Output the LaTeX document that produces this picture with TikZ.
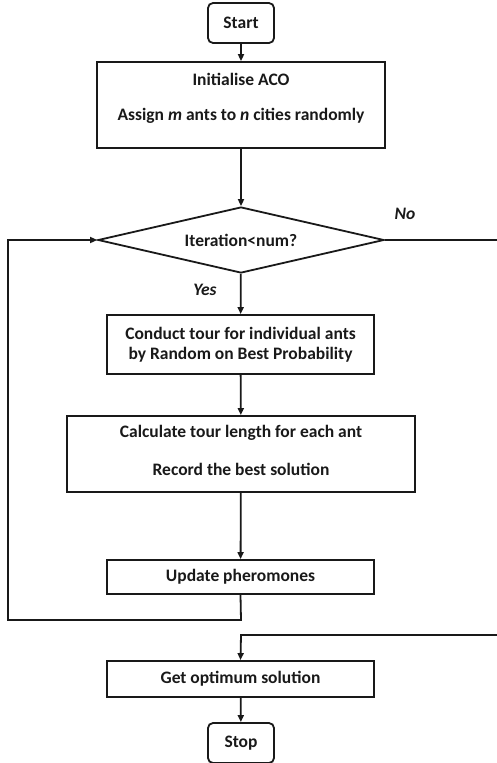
\documentclass[tikz,border=0pt]{standalone}
\usepackage{fontspec}
\setmainfont{Carlito}
\usetikzlibrary{shapes.geometric,arrows.meta}
\begin{document}
\begin{tikzpicture}[x=1pt,y=-1pt,
  line width=1.8pt,
  every node/.style={font=\fontsize{17.5}{20}\selectfont\bfseries, text=black!90},
  box/.style={draw=black!90, rectangle, inner sep=0pt},
  term/.style={draw=black!90, rectangle, rounded corners=5pt, inner sep=0pt, minimum width=66pt, minimum height=40pt},
  arr/.style={draw=black!90, -{Triangle[length=7pt,width=6pt]}},
  ln/.style={draw=black!90}]
\useasboundingbox (0,0) rectangle (496,763);
\node[term] (start) at (241,23) {Start};
\node[box, minimum width=288pt, minimum height=86pt] (init) at (241,105) {};
\node (init1) at (241,79) {Initialise ACO};
\node (init2) at (241,116) {Assign \textit{m} ants to \textit{n} cities randomly};
\node[draw=black!90, diamond, inner sep=0pt, minimum width=286pt, minimum height=66pt, aspect=4.33] (dia) at (241,240) {Iteration<num?};
\node[box, minimum width=267pt, minimum height=59pt, align=center] (conduct) at (240.5,344.5) {Conduct tour for individual ants\\by Random on Best Probability};
\node[box, minimum width=348pt, minimum height=76pt] (calc) at (241,454) {};
\node (calc1) at (241,433) {Calculate tour length for each ant};
\node (calc2) at (241,469) {Record the best solution};
\node[box, minimum width=267pt, minimum height=34pt] (update) at (240.5,577) {Update pheromones};
\node[box, minimum width=267pt, minimum height=36pt] (get) at (240.5,679) {Get optimum solution};
\node[term] (stop) at (241,743) {Stop};
\node[font=\fontsize{17.5}{20}\selectfont\bfseries\itshape] (yes) at (205,290) {Yes};
\node[font=\fontsize{17.5}{20}\selectfont\bfseries\itshape] (no) at (405,214) {No};
\coordinate (lb) at (8,620);
\coordinate (lt) at (8,240);
\coordinate (ub) at (241,620);
\coordinate (rt) at (497,240);
\coordinate (rb) at (497,635);
\coordinate (gb) at (241,635);
\draw[arr] (start) -- (init);
\draw[arr] (init) -- (dia);
\draw[arr] (dia) -- (conduct);
\draw[arr] (conduct) -- (calc);
\draw[arr] (calc) -- (update);
\draw[arr] (update.south) -- (ub) -- (lb) -- (lt) -- (dia.west);
\draw[ln] (dia.east) -- (rt);
\draw[arr] (rb) -- (gb) -- (get.north);
\draw[arr] (get) -- (stop);
\end{tikzpicture}
\end{document}
